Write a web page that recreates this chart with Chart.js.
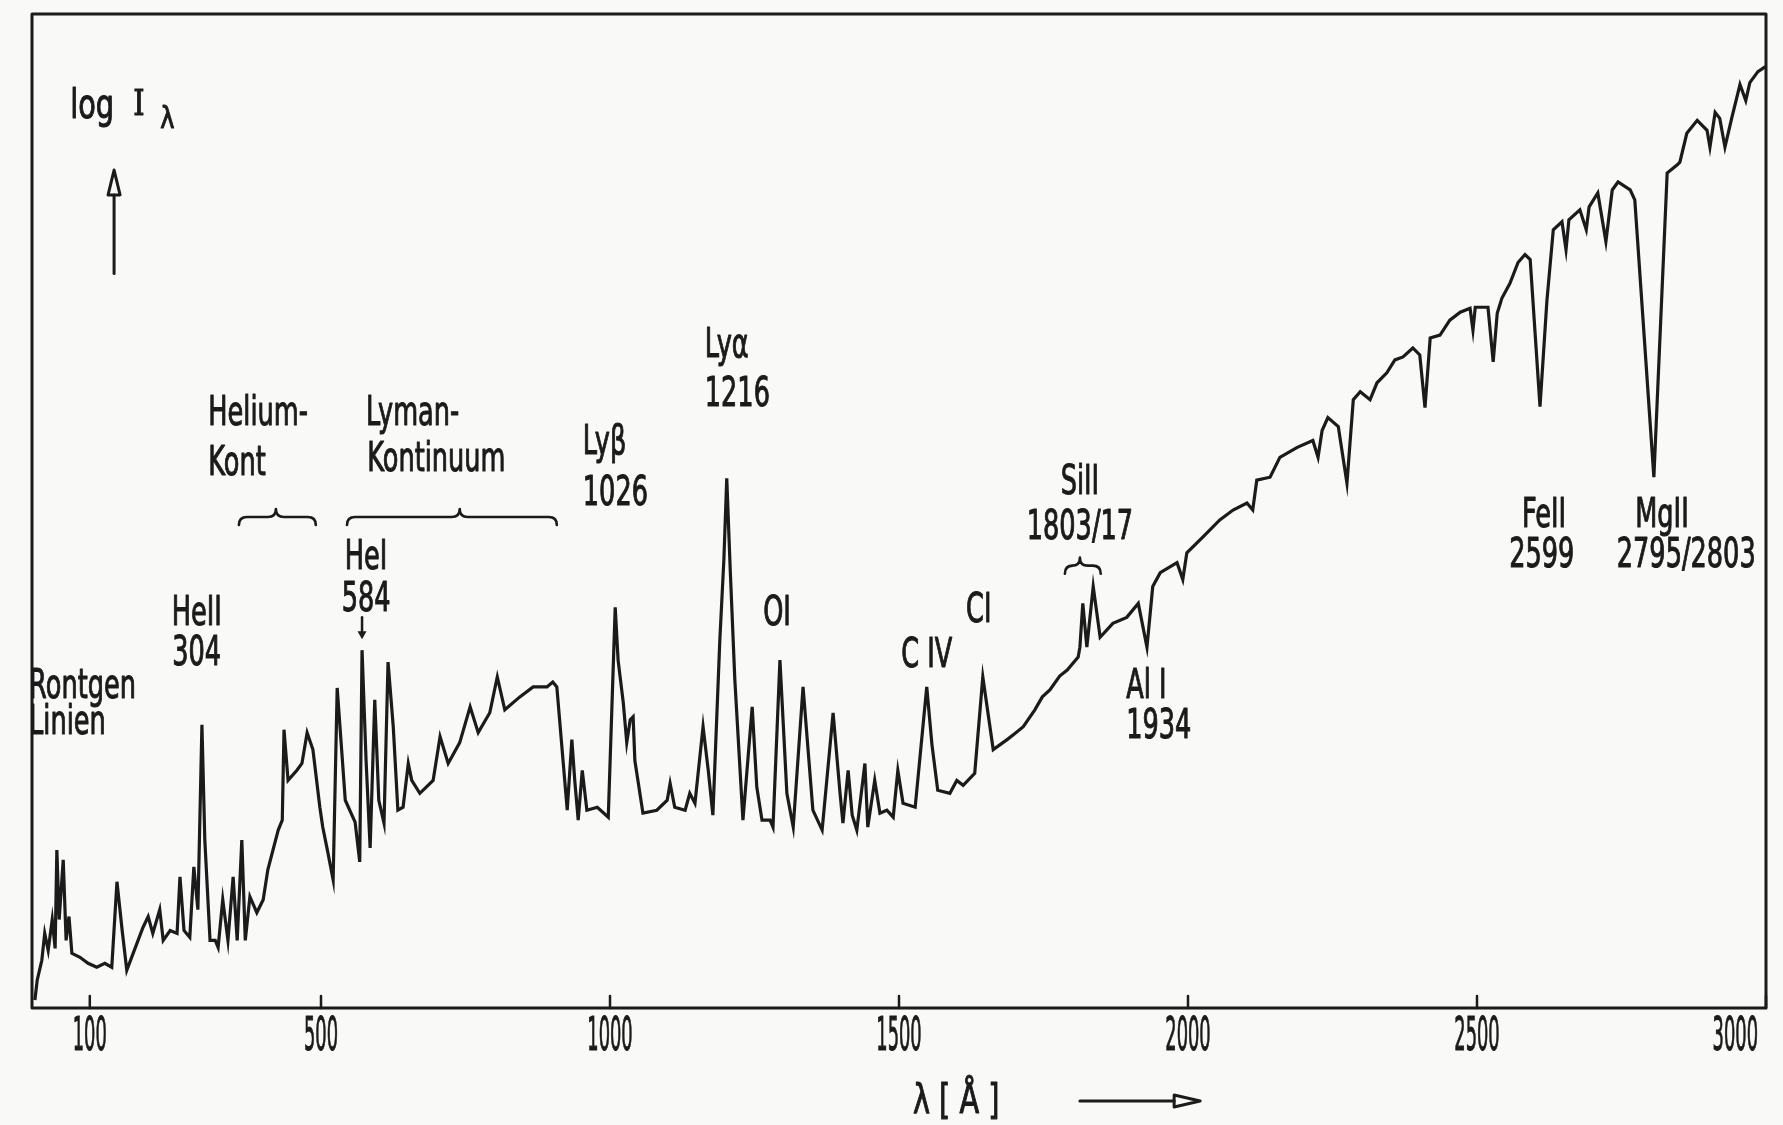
<!DOCTYPE html>
<html>
<head>
<meta charset="utf-8">
<title>Sonnenspektrum</title>
<script src="https://cdn.jsdelivr.net/npm/chart.js@4.4.1/dist/chart.umd.min.js"></script>
<style>
    html, body { margin: 0; padding: 0; background: #f9f9f8; }
    #wrap { width: 1783px; height: 1125px; }
</style>
</head>
<body>
<div id="wrap"><canvas id="canvas" width="1783" height="1125"></canvas></div>
<script>
// wavelength in Angstrom
var wavelength = [
    5, 9, 17, 22, 28, 35, 40, 43, 47, 54,
    59, 64, 69, 83, 97, 112, 126, 138, 147, 156,
    164, 175, 192, 201, 209, 221, 227, 239, 251, 256,
    263, 273, 280, 287, 294, 299, 308, 317, 322, 330,
    339, 348, 355, 363, 369, 377, 389, 400, 408, 417,
    426, 433, 436, 443, 458, 467, 476, 486, 498, 503,
    512, 521, 528, 542, 559, 567, 571, 578, 585, 593,
    600, 609, 616, 625, 633, 642, 651, 657, 671, 694,
    706, 720, 740, 758, 772, 792, 805, 818, 844, 867,
    891, 901, 908, 926, 934, 939, 945, 952, 960, 978,
    997, 1009, 1014, 1023, 1029, 1035, 1040, 1043, 1057, 1081,
    1099, 1104, 1112, 1130, 1138, 1147, 1161, 1170, 1178, 1190,
    1197, 1202, 1208, 1216, 1230, 1246, 1254, 1263, 1277, 1282,
    1294, 1306, 1317, 1334, 1351, 1367, 1386, 1398, 1403, 1412,
    1419, 1427, 1441, 1446, 1458, 1467, 1479, 1490, 1498, 1507,
    1528, 1548, 1557, 1567, 1588, 1600, 1611, 1631, 1645, 1663,
    1687, 1700, 1715, 1735, 1748, 1761, 1778, 1791, 1810, 1813,
    1818, 1825, 1836, 1848, 1870, 1894, 1914, 1929, 1939, 1952,
    1981, 1991, 1998, 2026, 2055, 2078, 2102, 2112, 2119, 2142,
    2159, 2189, 2216, 2225, 2232, 2242, 2260, 2275, 2286, 2298,
    2315, 2327, 2344, 2358, 2372, 2389, 2401, 2410, 2419, 2436,
    2453, 2471, 2488, 2493, 2497, 2519, 2528, 2535, 2543, 2557,
    2571, 2583, 2592, 2609, 2621, 2632, 2647, 2654, 2659, 2678,
    2689, 2694, 2709, 2723, 2734, 2744, 2765, 2773, 2806, 2829,
    2846, 2851, 2863, 2881, 2898, 2903, 2912, 2920, 2929, 2941,
    2955, 2965, 2972, 2986, 2999
];

// log I (relative units, 0 = bottom of the frame, 100 = top)
var logIntensity = [
    0.8, 2.8, 4.8, 7.5, 5.8, 8.9, 6.0, 15.9, 8.9, 14.9,
    6.8, 9.2, 5.5, 5.1, 4.5, 4.1, 4.5, 4.1, 12.7, 7.8,
    3.8, 5.5, 8.1, 9.2, 7.5, 9.9, 6.8, 7.8, 7.5, 13.2,
    7.8, 7.1, 14.2, 9.9, 28.5, 16.9, 6.8, 6.8, 6.1, 10.9,
    6.8, 13.2, 6.8, 16.9, 6.8, 11.2, 9.6, 10.9, 13.9, 15.9,
    17.9, 18.9, 28.0, 22.9, 23.9, 24.6, 27.7, 26.0, 20.2, 18.2,
    15.6, 12.9, 32.2, 20.9, 18.7, 14.7, 36.0, 24.9, 16.1, 31.0,
    20.9, 18.6, 34.8, 28.3, 19.9, 20.2, 24.6, 22.9, 21.6, 22.9,
    27.3, 24.6, 26.7, 30.3, 27.7, 29.7, 33.3, 30.0, 31.3, 32.3,
    32.3, 32.8, 32.3, 19.9, 27.0, 22.9, 18.9, 23.9, 19.9, 20.2,
    19.2, 40.3, 35.0, 30.7, 26.7, 29.0, 29.3, 24.9, 19.6, 19.9,
    20.9, 22.6, 20.2, 19.9, 21.6, 20.6, 28.3, 23.9, 19.4, 37.0,
    45.1, 53.3, 44.1, 33.0, 18.9, 30.3, 22.2, 18.9, 18.9, 18.2,
    35.0, 21.6, 18.2, 32.3, 19.9, 17.9, 29.7, 21.6, 18.6, 23.9,
    19.4, 17.9, 24.6, 18.2, 22.9, 19.6, 19.9, 19.2, 23.9, 20.6,
    20.2, 32.3, 26.5, 21.9, 21.6, 22.9, 22.4, 23.6, 33.3, 26.0,
    27.0, 27.6, 28.3, 30.0, 31.3, 32.0, 33.4, 34.0, 35.3, 36.3,
    40.7, 36.3, 42.4, 37.3, 38.7, 39.3, 40.7, 36.3, 42.4, 43.8,
    44.8, 43.1, 45.8, 47.4, 49.1, 50.1, 50.8, 50.1, 53.1, 53.4,
    55.4, 56.4, 57.1, 55.4, 58.1, 59.4, 58.5, 52.8, 61.2, 62.0,
    61.2, 62.9, 63.9, 65.2, 65.5, 66.4, 65.7, 60.4, 67.4, 67.7,
    69.2, 70.0, 70.4, 68.2, 70.5, 70.5, 65.0, 69.9, 71.4, 72.9,
    75.0, 75.8, 75.3, 60.5, 71.2, 78.3, 79.1, 76.3, 79.3, 80.3,
    78.3, 80.6, 82.0, 77.1, 82.3, 83.1, 82.3, 81.3, 53.4, 84.0,
    84.8, 85.1, 88.0, 89.3, 88.3, 86.6, 90.1, 89.5, 86.6, 89.6,
    92.9, 91.3, 93.1, 94.2, 94.7
];

var tickValues = [100, 500, 1000, 1500, 2000, 2500, 3000];

// line identifications, anchored in data units (wavelength, log I)
var lineLabels = [
    { text: 'Rontgen', x: -5, y: 32.2, align: 'left' },
    { text: 'Linien', x: -5, y: 28.6, align: 'left' },
    { text: 'HeII', x: 285, y: 39.6, align: 'center' },
    { text: '304', x: 285, y: 35.6, align: 'center' },
    { text: 'Helium-', x: 305, y: 59.7, align: 'left' },
    { text: 'Kont', x: 305, y: 54.7, align: 'left' },
    { text: 'Lyman-', x: 578, y: 59.7, align: 'left' },
    { text: 'Kontinuum', x: 580, y: 55.1, align: 'left' },
    { text: 'HeI', x: 578, y: 45.2, align: 'center' },
    { text: '584', x: 578, y: 41.0, align: 'center' },
    { text: 'Lyβ', x: 953, y: 56.8, align: 'left' },
    { text: '1026', x: 953, y: 51.6, align: 'left' },
    { text: 'Lyα', x: 1164, y: 66.5, align: 'left' },
    { text: '1216', x: 1164, y: 61.6, align: 'left' },
    { text: 'OI', x: 1289, y: 39.6, align: 'center' },
    { text: 'C IV', x: 1548, y: 35.4, align: 'center' },
    { text: 'CI', x: 1638, y: 39.9, align: 'center' },
    { text: 'SiII', x: 1813, y: 52.8, align: 'center' },
    { text: '1803/17', x: 1813, y: 48.2, align: 'center' },
    { text: 'Al I', x: 1893, y: 32.2, align: 'left' },
    { text: '1934', x: 1893, y: 28.2, align: 'left' },
    { text: 'FeII', x: 2616, y: 49.4, align: 'center' },
    { text: '2599', x: 2612, y: 45.4, align: 'center' },
    { text: 'MgII', x: 2820, y: 49.4, align: 'center' },
    { text: '2795/2803', x: 2862, y: 45.4, align: 'center' }
];

// curly brackets over wavelength ranges
var braces = [
    { from: 358, to: 491, tip: 422, y: 49.4 },
    { from: 545, to: 908, tip: 740, y: 49.4 },
    { from: 1787, to: 1849, tip: 1813, y: 44.5 }
];

var INK = '#1b1b1b';
var FONT = '"DejaVu Sans", "Liberation Sans", sans-serif';

function narrowText(ctx, s, x, y, align, size, sx, family) {
    ctx.save();
    ctx.translate(x, y);
    ctx.scale(sx, 1);
    ctx.font = size + 'px ' + (family || FONT);
    ctx.textAlign = align;
    ctx.textBaseline = 'middle';
    ctx.lineWidth = 1.1;
    ctx.fillText(s, 0, 0);
    ctx.strokeText(s, 0, 0);
    ctx.restore();
}

function drawBrace(ctx, x1, x2, xm, y) {
    var h = 8, r = 8;
    ctx.beginPath();
    ctx.moveTo(x1, y + h);
    ctx.quadraticCurveTo(x1, y, x1 + r, y);
    ctx.lineTo(xm - r, y);
    ctx.quadraticCurveTo(xm, y, xm, y - h);
    ctx.quadraticCurveTo(xm, y, xm + r, y);
    ctx.lineTo(x2 - r, y);
    ctx.quadraticCurveTo(x2, y, x2, y + h);
    ctx.stroke();
}

var decor = {
    id: 'decor',
    afterDraw(chart) {
        var ctx = chart.ctx, a = chart.chartArea;
        var xs = chart.scales.x, ys = chart.scales.y;
        var X = v => xs.getPixelForValue(v), Y = v => ys.getPixelForValue(v);

        ctx.save();
        ctx.strokeStyle = INK;
        ctx.fillStyle = INK;
        ctx.lineCap = 'round';
        ctx.lineJoin = 'round';

        // frame
        ctx.lineWidth = 3;
        ctx.strokeRect(a.left, a.top, a.right - a.left, a.bottom - a.top);

        // short ticks pointing inwards
        ctx.lineWidth = 2.5;
        tickValues.forEach(function(v) {
            ctx.beginPath();
            ctx.moveTo(X(v), a.bottom);
            ctx.lineTo(X(v), a.bottom - 12);
            ctx.stroke();
        });

        // tick labels
        var tSize = 47, tSx = 0.38;
        ctx.font = tSize + 'px ' + FONT;
        tickValues.forEach(function(v) {
            var s = String(v);
            var w = ctx.measureText(s).width * tSx;
            var x = X(v);
            if (x + w / 2 > a.right - 8) x = a.right - 8 - w / 2;
            narrowText(ctx, s, x, a.bottom + 30, 'center', tSize, tSx);
        });

        // x axis title with arrow
        narrowText(ctx, 'λ [ Å ]', X(1599), a.bottom + 95, 'center', 40, 0.72);
        var ay = a.bottom + 93, ax1 = X(1813), ax2 = X(2021);
        ctx.lineWidth = 3;
        ctx.beginPath();
        ctx.moveTo(ax1, ay);
        ctx.lineTo(ax2 - 26, ay);
        ctx.stroke();
        ctx.beginPath();
        ctx.moveTo(ax2 - 26, ay - 6);
        ctx.lineTo(ax2, ay);
        ctx.lineTo(ax2 - 26, ay + 6);
        ctx.closePath();
        ctx.stroke();

        // y axis title with arrow
        narrowText(ctx, 'log', X(66), Y(90.6), 'left', 40, 0.72);
        narrowText(ctx, 'I', X(185), Y(90.8), 'center', 36, 0.8, '"DejaVu Serif", serif');
        narrowText(ctx, 'λ', X(234), Y(89.3), 'center', 30, 0.8);
        var ux = X(142), uTop = Y(84.3), uBase = Y(81.8);
        ctx.lineWidth = 3;
        ctx.beginPath();
        ctx.moveTo(ux, Y(73.9));
        ctx.lineTo(ux, uBase);
        ctx.stroke();
        ctx.beginPath();
        ctx.moveTo(ux - 6, uBase);
        ctx.lineTo(ux, uTop);
        ctx.lineTo(ux + 6, uBase);
        ctx.closePath();
        ctx.stroke();

        // line identifications
        lineLabels.forEach(function(l) {
            narrowText(ctx, l.text, X(l.x), Y(l.y), l.align, 40, 0.64);
        });

        // brackets
        ctx.lineWidth = 2.6;
        braces.forEach(function(b) {
            drawBrace(ctx, X(b.from), X(b.to), X(b.tip), Y(b.y));
        });

        // small pointer to He I 584
        var hx = X(571);
        ctx.lineWidth = 2.5;
        ctx.beginPath();
        ctx.moveTo(hx, Y(39.3));
        ctx.lineTo(hx, Y(37.9));
        ctx.stroke();
        ctx.beginPath();
        ctx.moveTo(hx - 4.5, Y(37.9));
        ctx.lineTo(hx, Y(37.1));
        ctx.lineTo(hx + 4.5, Y(37.9));
        ctx.closePath();
        ctx.fill();

        ctx.restore();
    }
};

var points = wavelength.map(function(w, i) {
    return { x: w, y: logIntensity[i] };
});

var ctx = document.getElementById('canvas').getContext('2d');
var spectrumChart = new Chart(ctx, {
    type: 'line',
    data: {
        datasets: [{
            label: 'log I',
            data: points,
            borderColor: INK,
            borderWidth: 3.2,
            pointRadius: 0,
            tension: 0,
            fill: false
        }]
    },
    options: {
        responsive: false,
        animation: false,
        layout: {
            padding: { left: 32, right: 17, top: 14, bottom: 117 }
        },
        plugins: {
            legend: { display: false },
            tooltip: { enabled: false }
        },
        scales: {
            x: { type: 'linear', min: 0, max: 3000, display: false },
            y: { type: 'linear', min: 0, max: 100, display: false }
        }
    },
    plugins: [decor]
});
</script>
</body>
</html>
